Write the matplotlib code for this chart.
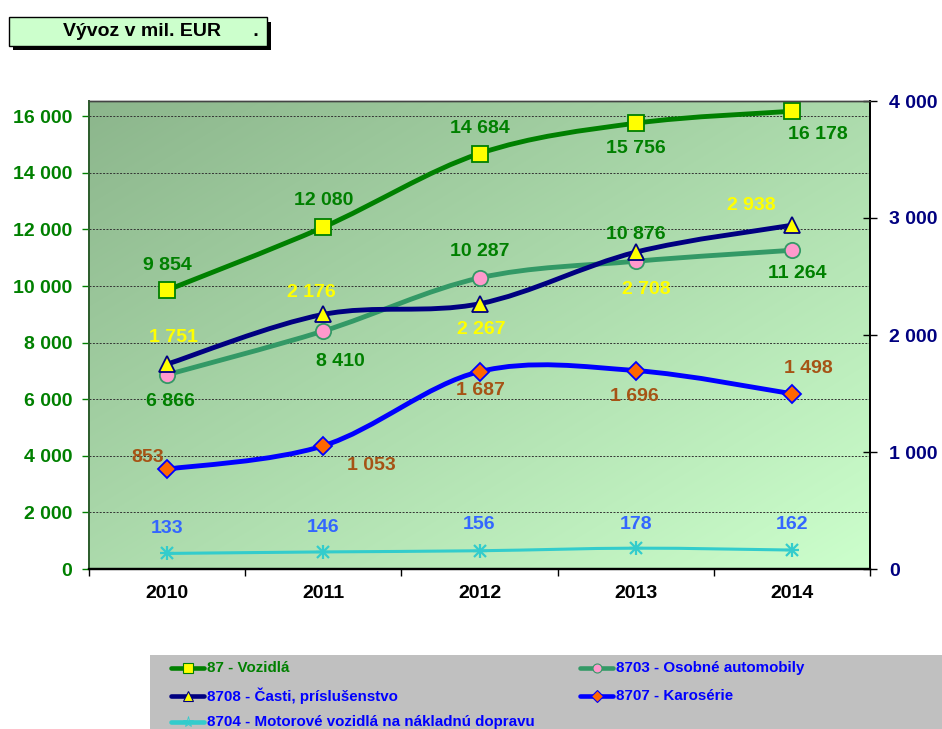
import matplotlib
matplotlib.use("Agg")
import matplotlib.pyplot as plt
import numpy as np
from matplotlib.path import Path
from matplotlib.patches import PathPatch, Rectangle
from matplotlib.lines import Line2D

# ---- data -------------------------------------------------------------
years = ["2010", "2011", "2012", "2013", "2014"]
vozidla = [9854, 12080, 14684, 15756, 16178]      # 87, left axis
osobne = [6866, 8410, 10287, 10876, 11264]        # 8703, left axis
casti = [1751, 2176, 2267, 2708, 2938]            # 8708, right axis
karoserie = [853, 1053, 1687, 1696, 1498]         # 8707, right axis
nakladne = [133, 146, 156, 178, 162]              # 8704, right axis

names = ["87 - Vozidlá", "8703 - Osobné automobily",
         "8708 - Časti, príslušenstvo", "8707 - Karosérie",
         "8704 - Motorové vozidlá na nákladnú dopravu"]

W, H = 942, 729
FONT = ["Liberation Sans", "DejaVu Sans"]
plt.rcParams["font.family"] = FONT


def fx(x):
    return x / W


def fy(y):
    return 1 - y / H


def fmt(v):
    return f"{v:,}".replace(",", " ")


def smooth_path(xs, ys):
    # Catmull-Rom style bezier, close to Excel's smoothed line
    p = np.column_stack([xs, ys]).astype(float)
    n = len(p)
    verts = [p[0]]
    codes = [Path.MOVETO]
    for i in range(n - 1):
        p0 = p[max(i - 1, 0)]
        p1, p2 = p[i], p[i + 1]
        p3 = p[min(i + 2, n - 1)]
        verts += [p1 + (p2 - p0) / 6, p2 - (p3 - p1) / 6, p2]
        codes += [Path.CURVE4] * 3
    return Path(verts, codes)


fig = plt.figure(figsize=(W / 100, H / 100), dpi=100)
ax = fig.add_axes([fx(89), fy(569), fx(870) - fx(89), fy(101) - fy(569)])
ax2 = ax.twinx()

# gradient background of the plot area
g = np.linspace(0, 1, 256)
gx, gy = np.meshgrid(g, g[::-1])
t = np.clip((gx + (1 - gy)) / 2, 0, 1)
c0 = np.array([140, 182, 140]) / 255
c1 = np.array([204, 255, 204]) / 255
img = c0[None, None, :] * (1 - t[..., None]) + c1[None, None, :] * t[..., None]
ax.imshow(img, extent=[0, 1, 0, 1], transform=ax.transAxes, aspect="auto",
          zorder=0, interpolation="bilinear")

x = np.arange(len(years))
ax.set_xlim(-0.5, 4.5)
ax.set_ylim(0, 16540)
ax2.set_ylim(0, 4000)

for v in range(2000, 16001, 2000):
    ax.axhline(v, color="#333333", lw=0.7, ls=(0, (2, 1.5)), zorder=1)

series = [
    # axis, values, line color, lw, marker, msize, face, edge, label color
    (ax, vozidla, "#008000", 3.5, "s", 11, "#ffff00", "#008000", "#008000"),
    (ax, osobne, "#339966", 3.5, "o", 11, "#ff99cc", "#339966", "#008000"),
    (ax2, casti, "#000080", 3.5, "^", 12, "#ffff00", "#000080", "#ffff00"),
    (ax2, karoserie, "#0000ff", 3.5, "D", 9, "#ff6600", "#0000ff", "#a65315"),
    (ax2, nakladne, "#33cccc", 2.2, "*", 0, "#33cccc", "#33cccc", "#3366ff"),
]

# label offsets in pixels (dx right, dy down)
offsets = [
    [(0, -25), (0, -27), (0, -25), (0, 25), (26, 23)],
    [(3, 27), (17, 30), (0, -26), (0, -27), (5, 23)],
    [(6, -27), (-12, -22), (2, 26), (11, 37), (-41, -20)],
    [(-19, -12), (48, 20), (1, 19), (-1, 26), (16, -25)],
    [(0, -25), (0, -24), (0, -26), (0, -24), (0, -26)],
]

FS = 14
for (a, vals, lc, lw, mk, ms, mf, me, tc), offs in zip(series, offsets):
    a.add_patch(PathPatch(smooth_path(x, vals), fill=False, edgecolor=lc,
                          lw=lw, zorder=3, capstyle="round", joinstyle="round"))
    if mk == "*":
        a.plot(x, vals, ls="none", marker="+", ms=10, mew=1.6, color=lc, zorder=4)
        a.plot(x, vals, ls="none", marker="x", ms=8, mew=1.6, color=lc, zorder=4)
    else:
        a.plot(x, vals, ls="none", marker=mk, ms=ms, mfc=mf, mec=me, mew=1.3,
               zorder=4)
    for xi, v, (dx, dy) in zip(x, vals, offs):
        ax2.annotate(fmt(v), (xi, v), xycoords=a.transData,
                     xytext=(dx * 0.72, -dy * 0.72), textcoords="offset points",
                     ha="center", va="center", fontsize=FS,
                     fontweight="bold", color=tc, zorder=6)

# axes styling
ax.set_xticks(x)
ax.set_xticklabels(years)
ax.set_xticks(np.arange(-0.5, 5, 1), minor=True)
ax.tick_params(axis="x", which="major", length=0, pad=11.5, labelsize=FS,
               labelcolor="black")
ax.tick_params(axis="x", which="minor", length=5, width=1, color="black",
               direction="out")
for lab in ax.get_xticklabels():
    lab.set_fontweight("bold")

ax.set_yticks(range(0, 16001, 2000))
ax.set_yticklabels([fmt(v) for v in range(0, 16001, 2000)])
ax.tick_params(axis="y", length=5, width=1, color="#008000", pad=7,
               labelsize=FS, labelcolor="#008000")
for lab in ax.get_yticklabels():
    lab.set_fontweight("bold")

ax2.set_yticks(range(0, 4001, 1000))
ax2.set_yticklabels([fmt(v) for v in range(0, 4001, 1000)])
ax2.tick_params(axis="y", length=10, width=1, direction="inout",
                color="black", pad=8.5, labelsize=FS, labelcolor="#000080")
for lab in ax2.get_yticklabels():
    lab.set_fontweight("bold")

for a in (ax, ax2):
    a.spines["top"].set_color("#444444")
    a.spines["top"].set_linewidth(1.0)
    a.spines["left"].set_color("#2e5e2e")
    a.spines["left"].set_linewidth(1.3)
    a.spines["right"].set_color("black")
    a.spines["right"].set_linewidth(1.3)
    a.spines["bottom"].set_color("black")
    a.spines["bottom"].set_linewidth(1.6)

# title box
fig.add_artist(Rectangle((fx(13), fy(50)), fx(258), fy(18) - fy(46),
                         transform=fig.transFigure, facecolor="black",
                         edgecolor="none", zorder=1))
fig.add_artist(Rectangle((fx(9), fy(46)), fx(258), fy(17) - fy(46),
                         transform=fig.transFigure, facecolor="#ccffcc",
                         edgecolor="black", lw=1, zorder=2))
fig.text(fx(63), fy(32), "Vývoz v mil. EUR      .", ha="left", va="center",
         fontsize=FS, fontweight="bold", color="black", zorder=3)

# legend
fig.add_artist(Rectangle((fx(150), fy(729)), fx(792), fy(655) - fy(729),
                         transform=fig.transFigure, facecolor="#c0c0c0",
                         edgecolor="none", zorder=1))
slots = [(170, 668), (579, 668), (170, 696), (579, 696), (170, 722)]
text_colors = ["#008000", "#0000ff", "#0000ff", "#0000ff", "#0000ff"]
for (sx, sy), s, name, tcol in zip(slots, series, names, text_colors):
    _, _, lc, lw, mk, ms, mf, me, _ = s
    fig.add_artist(Line2D([fx(sx + 1), fx(sx + 34)], [fy(sy), fy(sy)],
                          transform=fig.transFigure, color=lc, lw=3.3,
                          solid_capstyle="round", zorder=2))
    if mk == "*":
        fig.add_artist(Line2D([fx(sx + 18)], [fy(sy)], transform=fig.transFigure,
                              ls="none", marker="*", ms=8, mew=0.6, color=lc,
                              mfc="none", zorder=3))
    else:
        fig.add_artist(Line2D([fx(sx + 18)], [fy(sy)], transform=fig.transFigure,
                              ls="none", marker=mk, ms=6.5, mfc=mf, mec=me,
                              mew=0.8, zorder=3))
    fig.text(fx(sx + 37), fy(sy), name, ha="left", va="center",
             fontsize=10.9, fontweight="bold", color=tcol, zorder=3)

fig.savefig("out.png", dpi=100)
